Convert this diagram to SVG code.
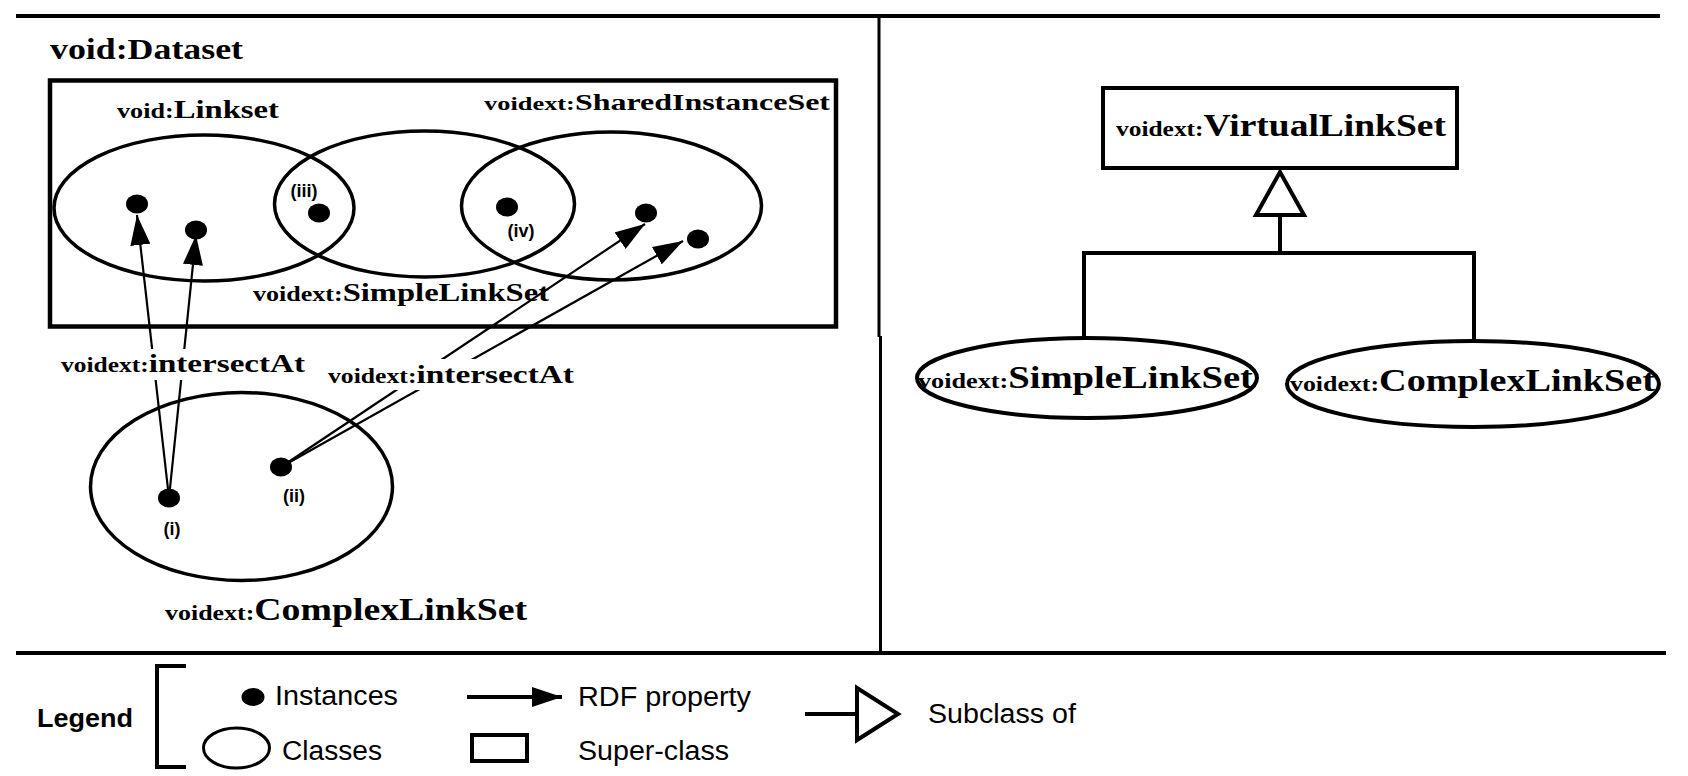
<svg xmlns="http://www.w3.org/2000/svg" width="1688" height="776" viewBox="0 0 1688 776">
<style>
.ln{stroke:#000;fill:none}
.sf{font-family:"Liberation Serif","DejaVu Serif",serif;font-weight:bold;fill:#000}
.ss{font-family:"Liberation Sans",Arial,sans-serif;fill:#000}
.rn{font-family:"Liberation Sans",Arial,sans-serif;font-weight:bold;font-size:18px;fill:#000}
.dot{fill:#000}
.bg{fill:#fff}
</style>
<defs>
<marker id="ah" markerUnits="userSpaceOnUse" markerWidth="30" markerHeight="20" refX="30" refY="10" orient="auto" viewBox="0 0 30 20">
<path d="M0,0 L30,10 L0,20 z" fill="#000"/>
</marker>
</defs>
<rect width="1688" height="776" fill="#fff"/>

<g id="frame">
<line class="ln" x1="16" y1="16" x2="1660" y2="16" stroke-width="4"/>
<line class="ln" x1="16" y1="653" x2="1666" y2="653" stroke-width="4"/>
<line class="ln" x1="879" y1="16" x2="879" y2="337" stroke-width="3"/>
<line class="ln" x1="880.5" y1="336" x2="880.5" y2="653" stroke-width="3"/>
</g>

<g id="dataset">
<text class="sf" x="50" y="59" font-size="30" textLength="193" lengthAdjust="spacingAndGlyphs">void:Dataset</text>
<rect class="ln" x="50" y="80.5" width="786" height="246" stroke-width="4.5"/>
</g>

<g id="linkset">
<ellipse class="ln" cx="204" cy="208" rx="150" ry="73" stroke-width="3.5"/>
<text class="sf" x="117" y="118" textLength="162" lengthAdjust="spacingAndGlyphs"><tspan font-size="20">void:</tspan><tspan font-size="25">Linkset</tspan></text>
</g>

<g id="simplelinkset">
<ellipse class="ln" cx="424.5" cy="204" rx="150" ry="73" stroke-width="3.5"/>
<text class="sf" x="253" y="301" textLength="296" lengthAdjust="spacingAndGlyphs"><tspan font-size="20">voidext:</tspan><tspan font-size="25">SimpleLinkSet</tspan></text>
</g>

<g id="sharedinstanceset">
<ellipse class="ln" cx="611.5" cy="206" rx="150" ry="74" stroke-width="3.5"/>
<text class="sf" x="484" y="110" textLength="346" lengthAdjust="spacingAndGlyphs"><tspan font-size="19">voidext:</tspan><tspan font-size="23">SharedInstanceSet</tspan></text>
</g>

<g id="complexlinkset">
<ellipse class="ln" cx="241.5" cy="486.5" rx="151" ry="94" stroke-width="3.5"/>
<text class="sf" x="165" y="620" textLength="362" lengthAdjust="spacingAndGlyphs"><tspan font-size="22">voidext:</tspan><tspan font-size="32">ComplexLinkSet</tspan></text>
</g>

<g id="instances">
<ellipse class="dot" cx="137" cy="204" rx="11" ry="9.5"/>
<ellipse class="dot" cx="196" cy="230" rx="11" ry="9.5"/>
<ellipse class="dot" cx="319" cy="213" rx="11" ry="9.5"/>
<text class="rn" x="304" y="197" text-anchor="middle">(iii)</text>
<ellipse class="dot" cx="507" cy="207" rx="11" ry="9.5"/>
<text class="rn" x="521" y="237" text-anchor="middle">(iv)</text>
<ellipse class="dot" cx="646" cy="213" rx="11" ry="9.5"/>
<ellipse class="dot" cx="698" cy="239" rx="11" ry="9.5"/>
<ellipse class="dot" cx="169" cy="498" rx="11" ry="9.5"/>
<text class="rn" x="172" y="535" text-anchor="middle">(i)</text>
<ellipse class="dot" cx="281" cy="467" rx="11" ry="9.5"/>
<text class="rn" x="294" y="502" text-anchor="middle">(ii)</text>
</g>

<g id="connectors">
<line class="ln" x1="169" y1="498" x2="137" y2="215" stroke-width="2.2" marker-end="url(#ah)"/>
<line class="ln" x1="169" y1="498" x2="196" y2="235" stroke-width="2.2" marker-end="url(#ah)"/>
<line class="ln" x1="281" y1="467" x2="645" y2="224" stroke-width="2.2" marker-end="url(#ah)"/>
<line class="ln" x1="281" y1="467" x2="683" y2="241" stroke-width="2.2" marker-end="url(#ah)"/>
<rect class="bg" x="60" y="349" width="246" height="31"/>
<text class="sf" x="61" y="372" textLength="244" lengthAdjust="spacingAndGlyphs"><tspan font-size="20">voidext:</tspan><tspan font-size="26">intersectAt</tspan></text>
<rect class="bg" x="327" y="359" width="248" height="31"/>
<text class="sf" x="328" y="383" textLength="246" lengthAdjust="spacingAndGlyphs"><tspan font-size="20">voidext:</tspan><tspan font-size="26">intersectAt</tspan></text>
<path class="ln" d="M1280,172 L1304,215 L1256,215 Z" stroke-width="4" fill="#fff"/>
<path class="ln" d="M1280,215 V253 M1084,338 V253 H1474 V341" stroke-width="4"/>
</g>

<g id="virtuallinkset">
<rect class="ln" x="1103" y="88" width="354" height="80" stroke-width="4"/>
<text class="sf" x="1116" y="136" textLength="330" lengthAdjust="spacingAndGlyphs"><tspan font-size="21">voidext:</tspan><tspan font-size="31">VirtualLinkSet</tspan></text>
</g>

<g id="r-simplelinkset">
<ellipse class="ln" cx="1087" cy="378" rx="170" ry="40" stroke-width="4"/>
<text class="sf" x="918" y="388" textLength="335" lengthAdjust="spacingAndGlyphs"><tspan font-size="21">voidext:</tspan><tspan font-size="31">SimpleLinkSet</tspan></text>
</g>

<g id="r-complexlinkset">
<ellipse class="ln" cx="1473" cy="384" rx="186" ry="43" stroke-width="4"/>
<text class="sf" x="1290" y="391" textLength="365" lengthAdjust="spacingAndGlyphs"><tspan font-size="21">voidext:</tspan><tspan font-size="31">ComplexLinkSet</tspan></text>
</g>

<g id="legend">
<text class="ss" x="37" y="727" font-size="25" font-weight="bold" textLength="96" lengthAdjust="spacingAndGlyphs">Legend</text>
<path class="ln" d="M186,666 H157 V767 H186" stroke-width="4"/>
<ellipse class="dot" cx="253" cy="697" rx="11.5" ry="9"/>
<text class="ss" x="275" y="705" font-size="27" textLength="123" lengthAdjust="spacingAndGlyphs">Instances</text>
<ellipse class="ln" cx="236.5" cy="748" rx="33" ry="20" stroke-width="3"/>
<text class="ss" x="282" y="760" font-size="27" textLength="100" lengthAdjust="spacingAndGlyphs">Classes</text>
<line class="ln" x1="467" y1="697" x2="562" y2="697" stroke-width="4" marker-end="url(#ah)"/>
<text class="ss" x="578" y="706" font-size="27" textLength="173" lengthAdjust="spacingAndGlyphs">RDF property</text>
<rect class="ln" x="472" y="735" width="55" height="26" stroke-width="4"/>
<text class="ss" x="578" y="760" font-size="27" textLength="151" lengthAdjust="spacingAndGlyphs">Super-class</text>
<line class="ln" x1="805" y1="714" x2="857" y2="714" stroke-width="4"/>
<path class="ln" d="M857,688 L898,714 L857,740 Z" stroke-width="4" fill="#fff"/>
<text class="ss" x="928" y="723" font-size="27" textLength="148" lengthAdjust="spacingAndGlyphs">Subclass of</text>
</g>
</svg>
